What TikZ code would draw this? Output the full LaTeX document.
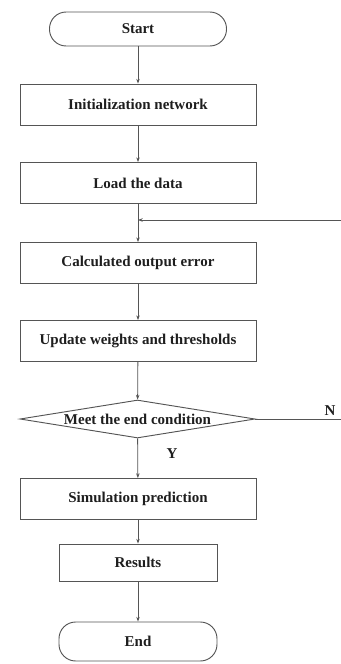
\documentclass[tikz,border=0pt]{standalone}
\usepackage{fontspec}
\setmainfont{Liberation Serif}
\usepackage{xcolor}
\usepackage{tikz}
\usetikzlibrary{arrows.meta, shapes.geometric}
\definecolor{fline}{HTML}{555555}
\definecolor{ftext}{HTML}{1E1E1E}

\begin{document}
\begin{tikzpicture}[x=0.03cm, y=-0.03cm,
  every node/.style={font=\fontsize{12.8}{15}\selectfont\bfseries, text=ftext},
  procbox/.style={draw=fline, line width=0.8pt, minimum width=7.08cm, minimum height=1.23cm, inner sep=0pt},
  termbox/.style={draw=fline, line width=0.8pt, rounded corners=0.5cm, inner sep=0pt},
  decision/.style={draw=fline, line width=0.8pt, diamond, minimum width=7.05cm, minimum height=1.14cm, inner sep=0pt},
  flow/.style={draw=fline, line width=0.7pt, -{Stealth[length=4pt, width=3pt]}}]
\useasboundingbox (0,0) rectangle (341,664);
\clip (0,0) rectangle (341,664);
\node[termbox, minimum width=5.31cm, minimum height=1.02cm] (start) at (138,29) {Start};
\node[procbox] (init) at (138,104.5) {Initialization network};
\node[procbox] (load) at (138,183) {Load the data};
\coordinate (join) at (138,220);
\node[procbox] (calc) at (138,263) {Calculated output error};
\node[procbox] (upd) at (138,341) {Update weights and thresholds};
\node[decision, label={center:Meet the end condition}] (dec) at (137.5,419) {};
\node[procbox] (sim) at (138,499) {Simulation prediction};
\node[procbox, minimum width=4.74cm, minimum height=1.11cm] (res) at (138,562.5) {Results};
\node[termbox, minimum width=4.74cm, minimum height=1.17cm] (stop) at (138,641.5) {End};
\coordinate (loop) at (346,419);
\node (nlab) at (330,411) {N};
\node (ylab) at (172,454) {Y};
% main flow
\draw[flow] (start) -- (init);
\draw[flow] (init) -- (load);
\draw[flow] (load) -- (calc);
\draw[flow] (calc) -- (upd);
\draw[flow] (upd) -- (dec);
\draw[flow] (dec) -- (sim);
\draw[flow] (sim) -- (res);
\draw[flow] (res) -- (stop);
% back to error calculation
\draw[flow] (dec.east) -- (loop) |- (join);
\end{tikzpicture}
\end{document}
